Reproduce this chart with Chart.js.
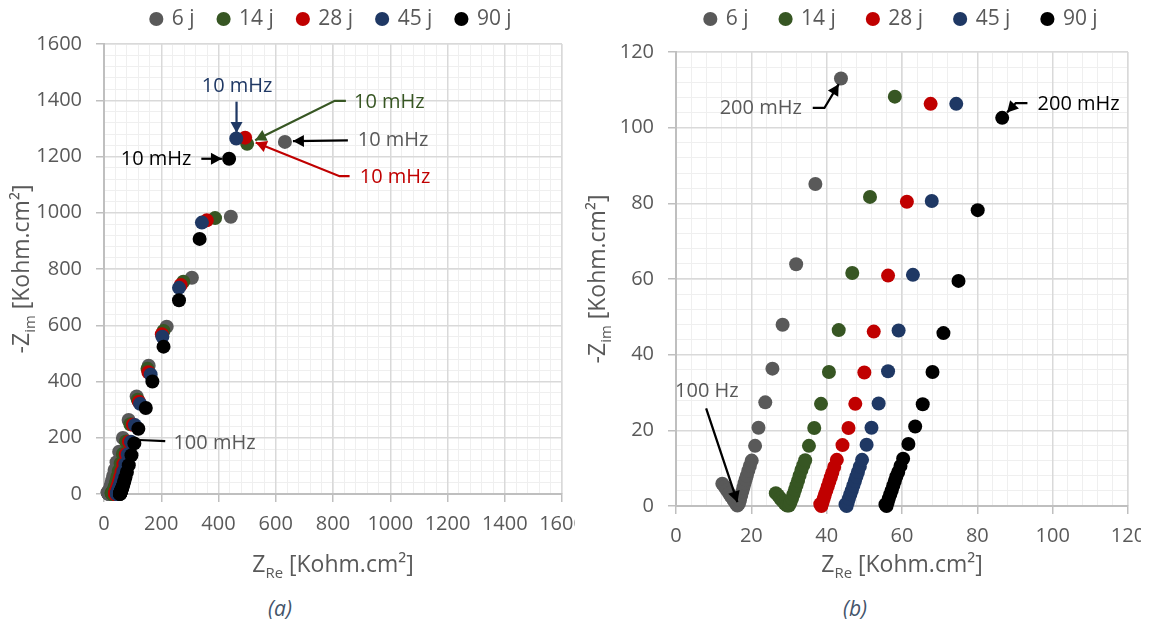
<!DOCTYPE html>
<html>
<head>
<meta charset="utf-8">
<title>Nyquist diagrams</title>
<script src="https://cdn.jsdelivr.net/npm/chart.js@4.4.1/dist/chart.umd.min.js"></script>
<style>
  html, body { margin: 0; padding: 0; background: #ffffff; }
  body { width: 1149px; height: 624px; position: relative; overflow: hidden; font-family: 'Open Sans', sans-serif; }
  .panel { position: absolute; top: 0; height: 590px; overflow: hidden; }
  .panel canvas { display: block; }
  #panelA { left: 0; width: 575px; }
  #panelB { left: 575px; width: 566px; }
  .caption { position: absolute; top: 594px; font-style: italic; font-size: 21px; color: #44546A; transform: translateX(-50%); }
</style>
</head>
<body>
<div class="panel" id="panelA"><canvas id="chartA" width="700" height="590"></canvas></div>
<div class="panel" id="panelB"><canvas id="chartB" width="700" height="590"></canvas></div>
<div class="caption" style="left:280px">(a)</div>
<div class="caption" style="left:855px">(b)</div>

<script>
// Series: immersion time (days)
const seriesNames = ['6 j', '14 j', '28 j', '45 j', '90 j'];
const seriesColors = ['#595959', '#375623', '#C00000', '#1F3864', '#000000'];

// Z real / -Z imaginary in Kohm.cm2, from high to low frequency
const zRe6 = [12.3, 12.9, 13.5, 14.1, 14.7, 15.3, 15.9, 16.3, 16.7, 17.0, 17.3, 17.6, 17.9, 18.2, 18.5, 18.8, 19.2, 19.6, 20.1, 21.0, 21.9, 23.7, 25.6, 28.3, 31.9, 37.0, 43.8, 53, 66, 86, 114, 156, 219, 307, 443, 632];
const zIm6 = [5.9, 5.1, 4.2, 3.3, 2.4, 1.5, 0.6, 0.1, 0.6, 1.6, 2.7, 3.8, 4.9, 6.0, 7.0, 8.0, 9.3, 10.6, 12.0, 15.9, 20.7, 27.4, 36.3, 47.9, 63.9, 85.1, 113.0, 150, 199, 263, 347, 456, 595, 769, 986, 1252];

const zRe14 = [26.5, 27.1, 27.7, 28.3, 28.9, 29.5, 30.0, 30.4, 30.8, 31.2, 31.6, 32.0, 32.4, 32.8, 33.3, 33.8, 34.3, 35.3, 36.7, 38.5, 40.6, 43.2, 46.8, 51.5, 58.1, 66, 77, 92, 118, 152, 208, 277, 388, 500];
const zIm14 = [3.4, 2.8, 2.0, 1.3, 0.6, 0.1, 0.1, 0.9, 2.0, 3.1, 4.3, 5.5, 6.7, 8.0, 9.5, 10.8, 12.1, 15.9, 20.6, 27.0, 35.4, 46.5, 61.6, 81.7, 108.2, 142, 187, 248, 335, 445, 580, 755, 981, 1245];

const zRe28 = [38.3, 38.6, 38.9, 39.2, 39.5, 39.9, 40.3, 40.7, 41.1, 41.5, 42.0, 42.7, 44.2, 45.8, 47.6, 50.0, 52.5, 56.3, 61.3, 67.6, 76, 87, 101, 122, 155, 202, 268, 359, 493];
const zIm28 = [0.5, 0.0, 0.9, 1.9, 2.9, 4.0, 5.2, 6.4, 7.6, 8.8, 10.3, 12.2, 16.1, 20.6, 27.0, 35.3, 46.1, 60.9, 80.4, 106.3, 141, 186, 246, 328, 433, 568, 743, 973, 1267];

const zRe45 = [45.0, 45.3, 45.6, 45.9, 46.3, 46.7, 47.1, 47.5, 47.9, 48.3, 48.8, 49.4, 50.6, 51.9, 53.8, 56.3, 59.1, 62.9, 67.9, 74.4, 83, 94, 108, 126, 163, 204, 262, 342, 462];
const zIm45 = [0.4, 0.0, 1.0, 2.0, 3.1, 4.2, 5.4, 6.6, 7.8, 9.0, 10.4, 12.2, 16.2, 20.7, 27.1, 35.6, 46.4, 61.1, 80.6, 106.3, 141, 186, 245, 321, 425, 559, 733, 965, 1264];

const zRe90 = [55.6, 55.9, 56.2, 56.5, 56.9, 57.3, 57.7, 58.1, 58.5, 59.0, 59.6, 60.3, 61.7, 63.5, 65.5, 68.1, 71.0, 75.0, 80.1, 86.6, 96, 106, 120, 146, 169, 208, 262, 334, 437];
const zIm90 = [0.4, 0.0, 1.0, 2.0, 3.1, 4.2, 5.4, 6.6, 7.8, 9.0, 10.6, 12.5, 16.4, 21.0, 26.9, 35.4, 45.7, 59.5, 78.2, 102.6, 138, 180, 232, 306, 400, 524, 689, 907, 1192];

const zReAll = [zRe6, zRe14, zRe28, zRe45, zRe90];
const zImAll = [zIm6, zIm14, zIm28, zIm45, zIm90];

// axis ranges: [max, major step, minor step]
const axisA = [1600, 200, 40];
const axisB = [120, 20, 4];

const FONT = "'Open Sans', sans-serif";
const GRAY = '#595959';
Chart.defaults.font.family = FONT;
Chart.defaults.color = GRAY;

// annotations (data coordinates)
const notesA = [
  { text: '10 mHz', color: '#1F3864', line: '#1F3864', at: [465, 1451], path: [[463, 1395], [463, 1284]], head: true },
  { text: '10 mHz', color: '#375623', line: '#375623', at: [997, 1392], path: [[845, 1398], [806, 1398], [528, 1258]], head: true },
  { text: '10 mHz', color: GRAY, line: '#000000', at: [1010, 1257], path: [[852, 1257], [660, 1255]], head: true },
  { text: '10 mHz', color: '#C00000', line: '#C00000', at: [1017, 1126], path: [[858, 1130], [823, 1130], [530, 1250]], head: true },
  { text: '10 mHz', color: '#000000', line: '#000000', at: [182, 1190], path: [[340, 1192], [412, 1192]], head: true },
  { text: '100 mHz', color: GRAY, line: '#000000', at: [386, 180], path: [[214, 188], [124, 192]], head: false }
];
const notesB = [
  { text: '200 mHz', color: GRAY, line: '#000000', at: [22.5, 105.2], path: [[36.3, 105.2], [39.4, 105.2], [43.2, 111.5]], head: true },
  { text: '200 mHz', color: '#000000', line: '#000000', at: [106.9, 106.3], path: [[93.3, 106.5], [90.2, 106.5], [87.9, 104.0]], head: true },
  { text: '100 Hz', color: GRAY, line: '#000000', at: [8.2, 30.4], path: [[8.0, 25.8], [16.3, 1.0]], head: true }
];

function makeDatasets(clip) {
  return seriesNames.map((name, i) => ({
    label: name,
    data: zReAll[i].map((x, k) => ({ x: x, y: zImAll[i][k] })),
    backgroundColor: seriesColors[i],
    borderColor: seriesColors[i],
    borderWidth: 0,
    pointRadius: 7,
    pointHoverRadius: 7,
    order: seriesNames.length - i,
    clip: clip
  }));
}

function majorScale(range, pos, size) {
  const [max, major] = range;
  return {
    type: 'linear',
    position: pos,
    min: 0,
    max: max,
    ticks: {
      stepSize: major,
      autoSkip: false,
      maxRotation: 0,
      color: GRAY,
      font: { size: 20 },
      padding: pos === 'left' ? 14 : 10,
      callback: value => String(value)
    },
    grid: { color: '#d9d9d9', lineWidth: 1.5, tickLength: 8, tickColor: '#bfbfbf', tickWidth: 1.5, z: -1 },
    border: { color: '#bfbfbf', width: 2 },
    afterFit: function(scale) {
      if (pos === 'left') scale.width = size; else scale.height = size;
    }
  };
}

// minor grid; on the right it also reserves room so the legend centres like the original
function minorScale(range, pos, size) {
  const [max, , minor] = range;
  return {
    type: 'linear',
    position: pos,
    min: 0,
    max: max,
    ticks: { stepSize: minor, display: false },
    grid: { color: '#efefef', lineWidth: 1, drawTicks: false, z: -2 },
    border: { display: false },
    afterFit: function(scale) {
      if (pos === 'right') scale.width = size; else scale.height = size;
    }
  };
}

function drawRichText(ctx, parts, cx, baseline, size) {
  const widths = parts.map(p => {
    ctx.font = (p.sub ? size * 0.65 : size) + 'px ' + FONT;
    return ctx.measureText(p.t).width;
  });
  const total = widths.reduce((a, b) => a + b, 0);
  let x = cx - total / 2;
  parts.forEach((p, i) => {
    ctx.font = (p.sub ? size * 0.65 : size) + 'px ' + FONT;
    ctx.fillText(p.t, x, baseline + (p.sub ? size * 0.24 : 0));
    x += widths[i];
  });
}

function chartDecor(notes, yTitleX, xTitleBase) {
  return {
    id: 'decor',
    afterDatasetsDraw(chart) {
      const { ctx, scales } = chart;
      const sx = scales.x, sy = scales.y;
      ctx.save();
      notes.forEach(n => {
        const pts = n.path.map(p => [sx.getPixelForValue(p[0]), sy.getPixelForValue(p[1])]);
        ctx.strokeStyle = n.line;
        ctx.fillStyle = n.line;
        ctx.lineWidth = 2.25;
        ctx.beginPath();
        pts.forEach((p, k) => k ? ctx.lineTo(p[0], p[1]) : ctx.moveTo(p[0], p[1]));
        ctx.stroke();
        if (n.head) {
          const a = pts[pts.length - 2], b = pts[pts.length - 1];
          const ang = Math.atan2(b[1] - a[1], b[0] - a[0]);
          const L = 11, W = 6;
          ctx.beginPath();
          ctx.moveTo(b[0], b[1]);
          ctx.lineTo(b[0] - L * Math.cos(ang) + W * Math.sin(ang), b[1] - L * Math.sin(ang) - W * Math.cos(ang));
          ctx.lineTo(b[0] - L * Math.cos(ang) - W * Math.sin(ang), b[1] - L * Math.sin(ang) + W * Math.cos(ang));
          ctx.closePath();
          ctx.fill();
        }
        ctx.fillStyle = n.color;
        ctx.font = '20px ' + FONT;
        ctx.textAlign = 'center';
        ctx.textBaseline = 'middle';
        ctx.fillText(n.text, sx.getPixelForValue(n.at[0]), sy.getPixelForValue(n.at[1]));
      });
      ctx.restore();
    },
    afterDraw(chart) {
      const { ctx, chartArea } = chart;
      ctx.save();
      ctx.fillStyle = GRAY;
      ctx.textAlign = 'left';
      ctx.textBaseline = 'alphabetic';
      const unit = ' [Kohm.cm\u00B2]';
      drawRichText(ctx, [{ t: 'Z' }, { t: 'Re', sub: true }, { t: unit }],
        (chartArea.left + chartArea.right) / 2, xTitleBase, 23);
      ctx.translate(yTitleX, (chartArea.top + chartArea.bottom) / 2);
      ctx.rotate(-Math.PI / 2);
      drawRichText(ctx, [{ t: '-Z' }, { t: 'im', sub: true }, { t: unit }], 0, 0, 23);
      ctx.restore();
    }
  };
}

function makeChart(id, range, lay, notes, clip) {
  return new Chart(document.getElementById(id), {
    type: 'scatter',
    data: { datasets: makeDatasets(clip) },
    options: {
      responsive: false,
      animation: false,
      events: [],
      layout: { padding: { left: 0, right: lay.padR, top: lay.padT, bottom: 0 } },
      plugins: {
        legend: {
          position: 'top',
          labels: {
            usePointStyle: true,
            pointStyle: 'circle',
            boxWidth: 10,
            boxHeight: 10,
            padding: lay.legendGap,
            color: GRAY,
            font: { size: 21 },
            sort: (a, b) => a.datasetIndex - b.datasetIndex
          }
        },
        subtitle: {
          display: true,
          text: '',
          position: 'top',
          weight: 500,
          padding: 0,
          font: { size: lay.spacer, lineHeight: 1 }
        },
        tooltip: { enabled: false }
      },
      scales: {
        xMinor: minorScale(range, 'bottom', 0),
        yMinor: minorScale(range, 'right', lay.rightW),
        x: majorScale(range, 'bottom', lay.xAxisH),
        y: majorScale(range, 'left', lay.yAxisW)
      }
    },
    plugins: [chartDecor(notes, lay.yTitleX, 572)]
  });
}

makeChart('chartA', axisA,
  { padR: 37, rightW: 101, padT: -15.5, legendGap: 24, spacer: 4.5, xAxisH: 96, yAxisW: 104, yTitleX: 29 },
  notesA, false);

makeChart('chartB', axisB,
  { padR: 47, rightW: 100, padT: -23.5, legendGap: 32, spacer: 12.5, xAxisH: 84, yAxisW: 101, yTitleX: 30 },
  notesB, { left: 9, bottom: 9, top: 0, right: 0 });
</script>
</body>
</html>
